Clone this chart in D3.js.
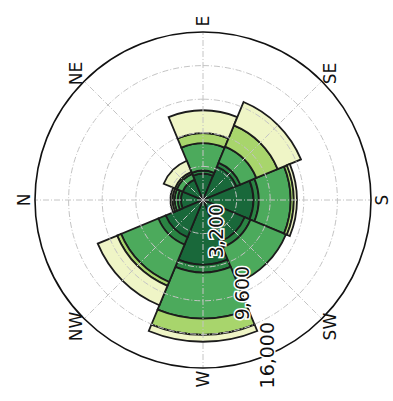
<!DOCTYPE html>
<html>
<head>
<meta charset="utf-8">
<script src="https://cdn.jsdelivr.net/npm/d3@7"></script>
<style>
  html, body { margin: 0; padding: 0; background: #fff; }
  svg { display: block; }
</style>
</head>
<body>
<svg id="rose" width="393" height="401"></svg>
<script>
// wind directions (compass sectors)
const directions = ["N", "NE", "E", "SE", "S", "SW", "W", "NW"];

// stacked speed classes, one value per direction
const bin0 = [2100, 2100, 2500, 3450, 4800, 4300, 6150, 3850];
const bin1 = [300, 0, 300, 400, 500, 600, 750, 750];
const bin2 = [300, 600, 2600, 1650, 3050, 3650, 4400, 3850];
const bin3 = [200, 200, 950, 2200, 300, 0, 1550, 400];
const bin4 = [200, 1150, 2200, 2400, 300, 0, 650, 2000];

// radial grid
const radialTicks = [3200, 6400, 9600, 12800, 16000];
const radialLabels = [3200, 9600, 16000];

const binColors = ["#19683a", "#2a8443", "#4caa5c", "#a8d56c", "#eff5c6"];

const cx = 203, cy = 200, R = 168;

const rows = directions.map((d, i) => ({
  dir: d, b0: bin0[i], b1: bin1[i], b2: bin2[i], b3: bin3[i], b4: bin4[i]
}));
const keys = ["b0", "b1", "b2", "b3", "b4"];
const series = d3.stack().keys(keys)(rows);

const r = d3.scaleLinear().domain([0, 16000]).range([0, R]);
const sector = 2 * Math.PI / directions.length;
const angle = i => i * sector;

const svg = d3.select("#rose");
// the whole rose is turned a quarter turn anticlockwise, text included
const g = svg.append("g")
  .attr("transform", `translate(${cx},${cy}) rotate(-90)`);

const arc = d3.arc();

// bars
series.forEach((s, k) => {
  g.append("g")
    .selectAll("path")
    .data(s.map((d, i) => ({ d, i })).filter(o => o.d[1] - o.d[0] > 0))
    .join("path")
      .attr("d", o => arc({
        innerRadius: r(o.d[0]),
        outerRadius: r(o.d[1]),
        startAngle: angle(o.i) - sector / 2,
        endAngle: angle(o.i) + sector / 2
      }))
      .attr("fill", binColors[k])
      .attr("stroke", "#1c1c1c")
      .attr("stroke-width", 1.8)
      .attr("stroke-linejoin", "miter");
});

// grid over the bars
const grid = g.append("g")
  .attr("fill", "none")
  .attr("stroke", "#c4c4c4")
  .attr("stroke-width", 1)
  .attr("stroke-dasharray", "6,2,1,2");

grid.selectAll("circle")
  .data(radialTicks.slice(0, -1))
  .join("circle")
    .attr("r", d => r(d));

grid.selectAll("line")
  .data(directions.map((d, i) => angle(i)))
  .join("line")
    .attr("x1", 0).attr("y1", 0)
    .attr("x2", a => R * Math.sin(a))
    .attr("y2", a => -R * Math.cos(a));

// outer frame
g.append("circle")
  .attr("r", r(16000))
  .attr("fill", "none")
  .attr("stroke", "#111")
  .attr("stroke-width", 1.6);

// compass labels
g.append("g")
  .selectAll("text")
  .data(directions)
  .join("text")
    .attr("x", (d, i) => 179 * Math.sin(angle(i)))
    .attr("y", (d, i) => -179 * Math.cos(angle(i)))
    .attr("text-anchor", "middle")
    .attr("dominant-baseline", "central")
    .attr("font-family", "DejaVu Sans, sans-serif")
    .attr("font-size", 17)
    .attr("fill", "#111")
    .text(d => d);

// radial labels along WSW
const labelAngle = 247.5 * Math.PI / 180;
const fmt = d3.format(",");
g.append("g")
  .selectAll("text")
  .data(radialLabels)
  .join("text")
    .attr("x", d => r(d) * Math.sin(labelAngle))
    .attr("y", d => -r(d) * Math.cos(labelAngle))
    .attr("text-anchor", "middle")
    .attr("dominant-baseline", "central")
    .attr("font-family", "DejaVu Sans, sans-serif")
    .attr("font-size", 19)
    .attr("fill", "#111")
    .attr("stroke", "#fff")
    .attr("stroke-width", 3)
    .attr("paint-order", "stroke")
    .text(d => fmt(d));
</script>
</body>
</html>
